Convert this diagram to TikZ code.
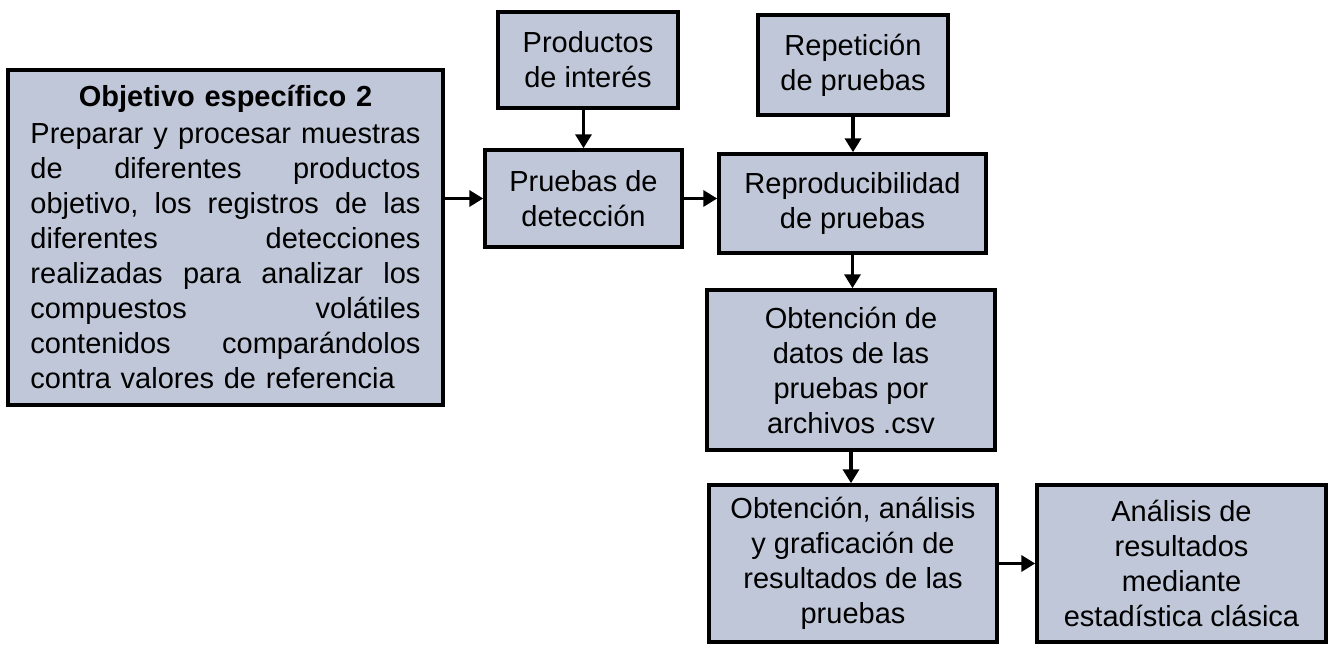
\documentclass[tikz,border=0pt]{standalone}
\usepackage{fontspec}
\setmainfont{Liberation Sans}
\usetikzlibrary{arrows.meta}
\definecolor{boxfill}{RGB}{192,199,216}
\newcommand{\jline}[1]{\leavevmode\hbox to 390pt{#1}}
\tikzset{
  stepbox/.style={draw=black, line width=3.5pt, fill=boxfill, align=center,
    inner sep=0pt, font=\fontsize{29}{35}\selectfont},
  arr/.style={line width=3.5pt, -{Triangle[length=14pt,width=16pt]}}
}
\begin{document}
\begin{tikzpicture}[x=1pt,y=-1pt]
\useasboundingbox (0,0) rectangle (1334,645);
\node[stepbox, minimum width=435pt, minimum height=335pt, text width=390pt] (obj) at (225.5,237.5)
{{\bfseries Objetivo específico 2}\\[2pt]
\jline{Preparar\hfill y\hfill procesar\hfill muestras}\\
\jline{de\hfill diferentes\hfill productos}\\
\jline{objetivo,\hfill los\hfill registros\hfill de\hfill las}\\
\jline{diferentes\hfill detecciones}\\
\jline{realizadas\hfill para\hfill analizar\hfill los}\\
\jline{compuestos\hfill volátiles}\\
\jline{contenidos\hfill comparándolos}\\
\jline{contra valores de referencia\hfill}};
\node[stepbox, minimum width=180pt, minimum height=96pt] (prod) at (588,60) {Productos\\de interés};
\node[stepbox, minimum width=197pt, minimum height=97pt] (det) at (583.5,198.5) {Pruebas de\\detección};
\node[stepbox, minimum width=190pt, minimum height=100pt] (rep) at (853,65) {Repetición\\de pruebas};
\node[stepbox, minimum width=267pt, minimum height=99pt] (repro) at (852.5,203.5) {Reproducibilidad\\de pruebas};
\node[stepbox, minimum width=288pt, minimum height=160pt] (datos) at (851,370) {Obtención de\\datos de las\\pruebas por\\archivos .csv};
\node[stepbox, minimum width=288pt, minimum height=157pt] (graf) at (853,563.5) {Obtención, análisis\\y graficación de\\resultados de las\\pruebas};
\node[stepbox, minimum width=289pt, minimum height=157pt] (anal) at (1181.5,563.5) {Análisis de\\resultados\\mediante\\estadística clásica};
\draw[arr] (obj.east |- det.west) -- (det.west);
\draw[arr] (det.east) -- (det.east -| repro.west);
\draw[arr] (prod.south -| det.north) -- (det.north);
\draw[arr] (rep.south) -- (rep.south |- repro.north);
\draw[arr] (repro.south) -- (repro.south |- datos.north);
\draw[arr] (datos.south) -- (datos.south |- graf.north);
\draw[arr] (graf.east) -- (anal.west);
\end{tikzpicture}
\end{document}
